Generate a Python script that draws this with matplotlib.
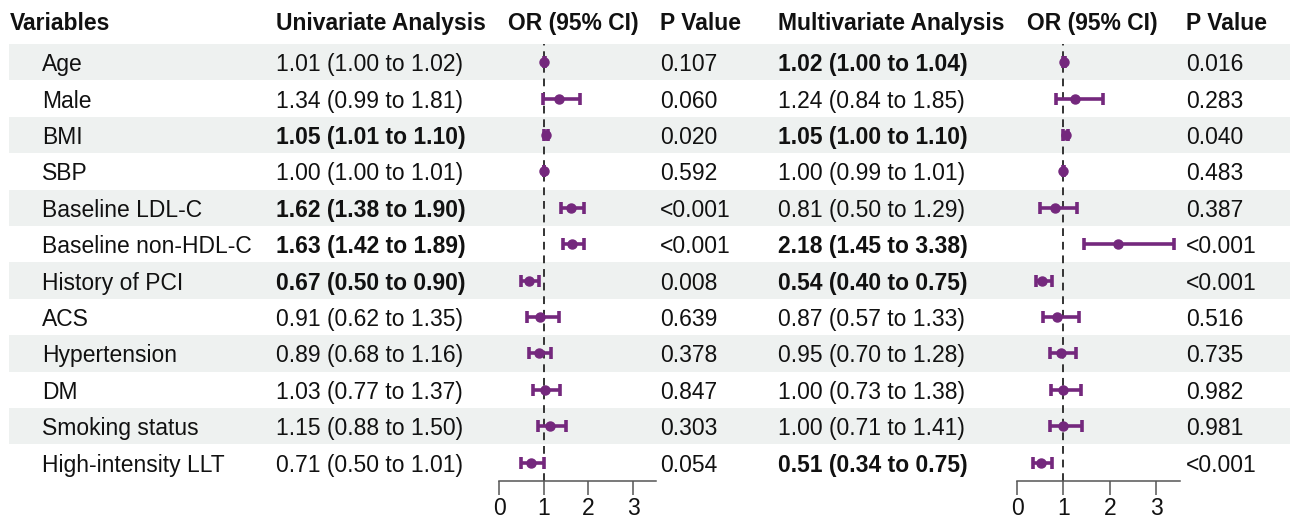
import matplotlib.pyplot as plt
import numpy as np

#%% Data

variables = ['Age', 'Male', 'BMI', 'SBP', 'Baseline LDL-C', 'Baseline non-HDL-C',
             'History of PCI', 'ACS', 'Hypertension', 'DM', 'Smoking status',
             'High-intensity LLT']

uni_or = [1.01, 1.34, 1.05, 1.00, 1.62, 1.63, 0.67, 0.91, 0.89, 1.03, 1.15, 0.71]
uni_lo = [1.00, 0.99, 1.01, 1.00, 1.38, 1.42, 0.50, 0.62, 0.68, 0.77, 0.88, 0.50]
uni_hi = [1.02, 1.81, 1.10, 1.01, 1.90, 1.89, 0.90, 1.35, 1.16, 1.37, 1.50, 1.01]
uni_p = ['0.107', '0.060', '0.020', '0.592', '<0.001', '<0.001', '0.008', '0.639',
         '0.378', '0.847', '0.303', '0.054']
uni_sig = [False, False, True, False, True, True, True, False, False, False, False, False]

multi_or = [1.02, 1.24, 1.05, 1.00, 0.81, 2.18, 0.54, 0.87, 0.95, 1.00, 1.00, 0.51]
multi_lo = [1.00, 0.84, 1.00, 0.99, 0.50, 1.45, 0.40, 0.57, 0.70, 0.73, 0.71, 0.34]
multi_hi = [1.04, 1.85, 1.10, 1.01, 1.29, 3.38, 0.75, 1.33, 1.28, 1.38, 1.41, 0.75]
multi_p = ['0.016', '0.283', '0.040', '0.483', '0.387', '<0.001', '<0.001', '0.516',
           '0.735', '0.982', '0.981', '<0.001']
multi_sig = [True, False, True, False, False, True, True, False, False, False, False, True]

xticks = [0, 1, 2, 3]

#%% Style

plt.rcParams['font.family'] = ['Liberation Sans', 'DejaVu Sans']
fs = 16.5
txt_col = '#111111'
band_col = '#eef1f0'
purple = '#74287d'

W, H = 1290, 519
top_px, pitch = 44, 36.4
n = len(variables)

def row_y(i):
    return top_px + pitch * (i + 0.5)

fig = plt.figure(figsize=(W / 100, H / 100), dpi=100)
ax0 = fig.add_axes([0, 0, 1, 1])
ax0.set_xlim(0, W)
ax0.set_ylim(H, 0)
ax0.axis('off')

# alternating bands
for i in range(0, n, 2):
    ax0.add_patch(plt.Rectangle((9, top_px + pitch * i), W - 9, pitch,
                                color=band_col, lw=0, zorder=0))

# headers
hy = 21
for x, s in [(10, 'Variables'), (276, 'Univariate Analysis'), (508, 'OR (95% CI)'),
             (660, 'P Value'), (778, 'Multivariate Analysis'), (1027, 'OR (95% CI)'),
             (1186, 'P Value')]:
    ax0.text(x, hy, s, fontsize=fs, fontweight='bold', va='center_baseline', ha='left',
             color=txt_col)

def ci_text(o, l, h):
    return f'{o:.2f} ({l:.2f} to {h:.2f})'

for i in range(n):
    y = row_y(i)
    ax0.text(42, y, variables[i], fontsize=fs, va='center_baseline', color=txt_col)
    ax0.text(276, y, ci_text(uni_or[i], uni_lo[i], uni_hi[i]), fontsize=fs,
             va='center_baseline', color=txt_col,
             fontweight='bold' if uni_sig[i] else 'normal')
    ax0.text(660, y, uni_p[i], fontsize=fs, va='center_baseline', color=txt_col)
    ax0.text(778, y, ci_text(multi_or[i], multi_lo[i], multi_hi[i]), fontsize=fs,
             va='center_baseline', color=txt_col,
             fontweight='bold' if multi_sig[i] else 'normal')
    ax0.text(1186, y, multi_p[i], fontsize=fs, va='center_baseline', color=txt_col)

#%% Forest panels

def forest(left_px, right_px, est, lo, hi):
    bottom_px = top_px + pitch * n
    ax = fig.add_axes([left_px / W, 1 - bottom_px / H,
                       (right_px - left_px) / W, pitch * n / H])
    ax.set_facecolor('none')
    est = np.array(est)
    err = np.vstack([est - np.array(lo), np.array(hi) - est])
    yy = np.arange(n)
    ax.axvline(1, color='#333333', lw=1.4, ls=(0, (4, 3)), zorder=1)
    ax.errorbar(est, yy, xerr=err, fmt='o', color=purple, ms=6.5, elinewidth=2.6,
                capsize=4.5, capthick=2.6, zorder=3)
    ax.set_ylim(n - 0.5, -0.5)
    ax.set_xlim(0, 3.51)
    for s in ['top', 'right', 'left']:
        ax.spines[s].set_visible(False)
    ax.spines['bottom'].set_color('#555555')
    ax.spines['bottom'].set_linewidth(1.1)
    ax.set_yticks([])
    ax.set_xticks(xticks)
    ax.tick_params(axis='x', length=10, width=1.1, color='#555555',
                   labelsize=fs, labelcolor=txt_col, pad=2)
    return ax

forest(499, 656, uni_or, uni_lo, uni_hi)
forest(1017, 1180, multi_or, multi_lo, multi_hi)

plt.savefig('out.png', dpi=100)
